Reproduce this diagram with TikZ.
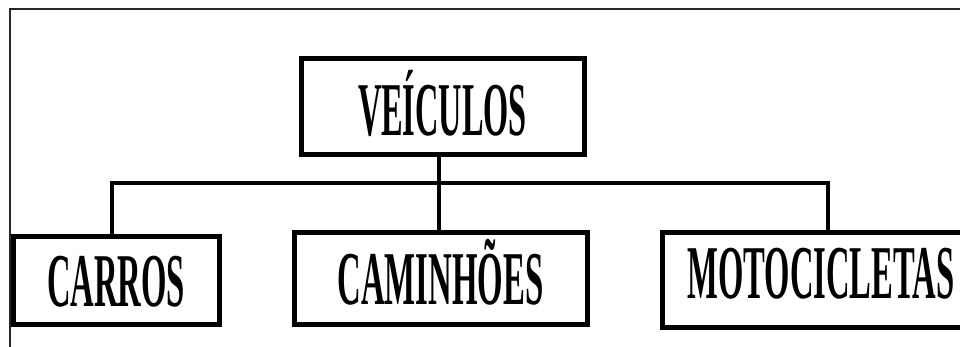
\documentclass[tikz,border=0pt]{standalone}
\usepackage{fontspec}
\usepackage{graphicx}
\setmainfont{Liberation Serif}
\newcommand\wordfit[2]{\resizebox{#1}{\height}{\fontsize{76pt}{76pt}\selectfont\bfseries #2}}
\begin{document}
\begin{tikzpicture}[x=1pt,y=-1pt,
  box/.style={draw=black, line width=5pt, rectangle, inner sep=0pt, text depth=0pt},
  conn/.style={draw=black, line width=4.5pt, line join=miter},
  frame/.style={draw=black!85, line width=1.2pt}]
\useasboundingbox (0,0) rectangle (960,347);
\fill[white] (0,0) rectangle (960,347);
% outer frame (cropped)
\coordinate (fbl) at (10,348);
\coordinate (ftl) at (10,9);
\coordinate (ftr) at (961,9);
\draw[frame] (fbl) -- (ftl) -- (ftr);
% boxes
\node[box, minimum width=283pt, minimum height=96pt, text height=58pt] (v) at (442.5,107) {\wordfit{169pt}{VEÍCULOS}\hspace{10pt}};
\node[box, minimum width=206pt, minimum height=87pt, text height=51pt] (c1) at (116,280.5) {\wordfit{138pt}{CARROS}\hspace{10pt}};
\node[box, minimum width=293pt, minimum height=91pt, text height=52pt] (c2) at (440.5,278.5) {\wordfit{206pt}{CAMINHÕES}\hspace{10pt}};
\node[box, minimum width=318pt, minimum height=94pt, text height=36pt] (c3) at (821,280) {\wordfit{267pt}{MOTOCICLETAS}};
% connectors
\coordinate (jm) at (439,183);
\coordinate (jl) at (112,183);
\coordinate (jr) at (828,183);
\draw[conn] (v.south -| jm) -- (c2.north -| jm);
\draw[conn] (c1.north -| jl) |- (jr) -- (c3.north -| jr);
\end{tikzpicture}
\end{document}
